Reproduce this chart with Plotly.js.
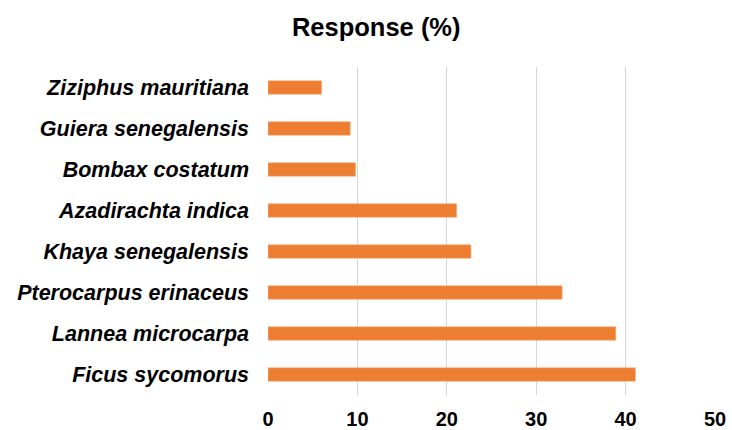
<!DOCTYPE html>
<html>
<head>
<meta charset="utf-8">
<script src="https://cdn.plot.ly/plotly-3.0.1.min.js"></script>
<style>html,body{margin:0;padding:0;background:#fff;}#chart{width:732px;height:430px;}</style>
</head>
<body>
<div id="chart"></div>
<script>
const species = ["Ficus sycomorus","Lannea microcarpa","Pterocarpus erinaceus","Khaya senegalensis","Azadirachta indica","Bombax costatum","Guiera senegalensis","Ziziphus mauritiana"];
const response = [41.1, 38.9, 32.9, 22.7, 21.1, 9.8, 9.2, 6.0];
const xTicks = [0, 10, 20, 30, 40, 50];

const trace = {
  type: 'bar',
  orientation: 'h',
  y: species,
  x: response,
  marker: {color: '#ED7D31', line: {color: '#F4B183', width: 0.6}},
  width: 0.33,
  hoverinfo: 'x+y'
};

const layout = {
  width: 732, height: 430,
  margin: {l: 268, r: 17, t: 67, b: 35},
  paper_bgcolor: '#fff', plot_bgcolor: '#fff',
  showlegend: false,
  title: {text: '<b>Response (%)</b>', x: 0.514, xref: 'container', xanchor: 'center', y: 0.937, yref: 'container', yanchor: 'middle',
          font: {family: 'Liberation Sans, Arial, sans-serif', size: 25.5, color: '#000'}},
  xaxis: {range: [0, 50], tickvals: xTicks, ticktext: xTicks.map(v => '<b>' + v + '</b>'),
          showgrid: true, gridcolor: '#d6d6d6', gridwidth: 1, zeroline: false, showline: false,
          ticks: '', ticklabelstandoff: 10,
          tickfont: {family: 'Liberation Sans, Arial, sans-serif', size: 20, color: '#000'}, fixedrange: true},
  yaxis: {categoryorder: 'array', categoryarray: species, ticks: '', showgrid: false, zeroline: false, showline: false,
          ticklabelstandoff: 18,
          tickvals: species, ticktext: species.map(s => '<b><i>' + s + '</i></b>'),
          tickfont: {family: 'Liberation Sans, Arial, sans-serif', size: 21.5, color: '#000'}, fixedrange: true}
};

Plotly.newPlot('chart', [trace], layout, {displayModeBar: false, staticPlot: true});
</script>
</body>
</html>
